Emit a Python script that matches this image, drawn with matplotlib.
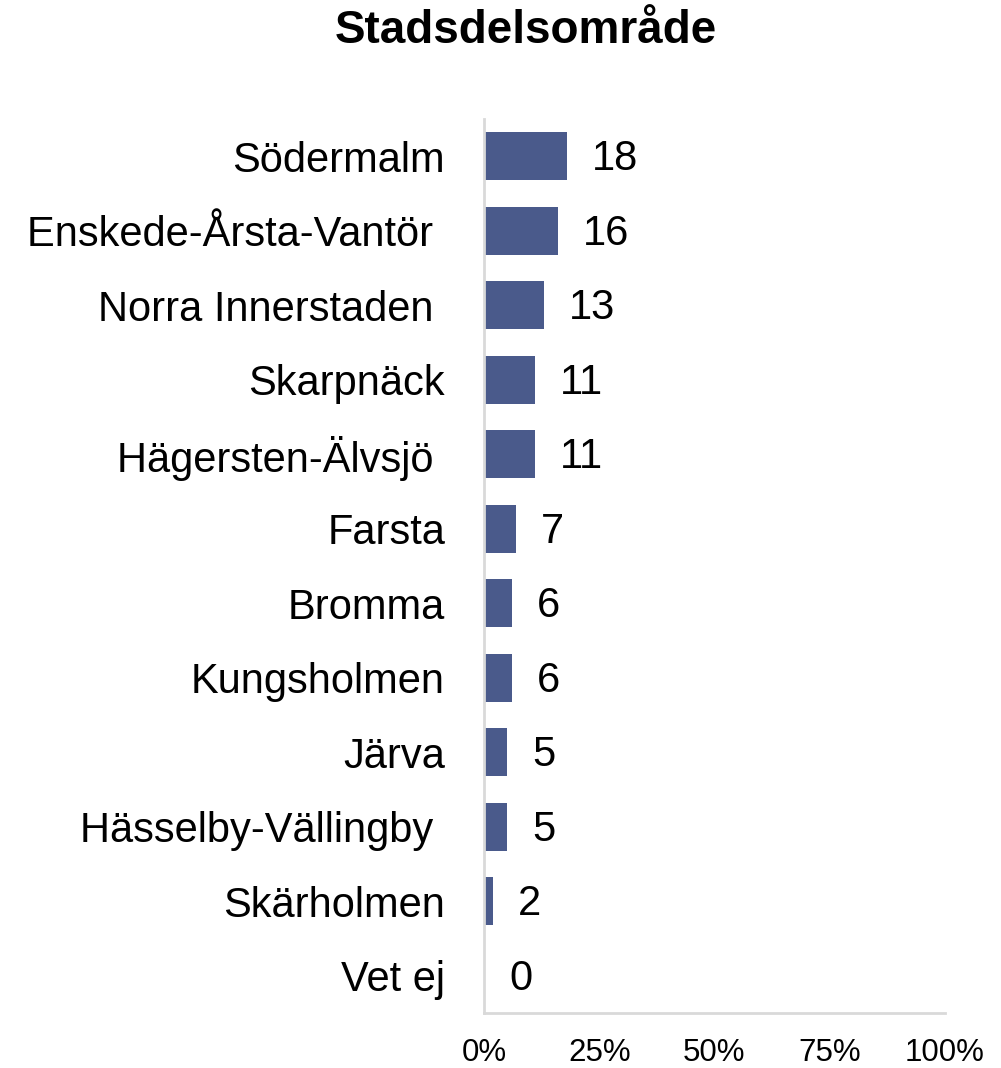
import numpy as np
import matplotlib.pyplot as plt

plt.rcParams['font.family'] = ['Liberation Sans', 'DejaVu Sans']

# data
categories = ["Södermalm", "Enskede-Årsta-Vantör ", "Norra Innerstaden ", "Skarpnäck",
              "Hägersten-Älvsjö ", "Farsta", "Bromma", "Kungsholmen", "Järva",
              "Hässelby-Vällingby ", "Skärholmen", "Vet ej"]
values = [18, 16, 13, 11, 11, 7, 6, 6, 5, 5, 2, 0]
ticks = [0, 25, 50, 75, 100]
tick_labels = ["0%", "25%", "50%", "75%", "100%"]

bar_color = "#4A5A8B"
spine_color = "#D9D9D9"

fig = plt.figure(figsize=(10.01, 10.68), dpi=100)
ax = fig.add_axes([0.4835, 0.0515, 0.4605, 0.8371])

y = np.arange(len(categories))
ax.barh(y, values, height=0.65, color=bar_color)
for yi, v in zip(y, values):
    ax.annotate(str(v), (v, yi), xytext=(18, -2), textcoords="offset points",
                ha="left", va="center", fontsize=30)

ax.set_ylim(len(categories) - 0.5, -0.5)
ax.set_xlim(0, 100)
ax.set_yticks(y)
ax.set_yticklabels(categories, fontsize=30)
ax.set_xticks(ticks)
ax.set_xticklabels(tick_labels, fontsize=22.5)
ax.tick_params(axis="y", length=0, pad=28)
ax.tick_params(axis="x", length=0, pad=18)

for s in ["top", "right"]:
    ax.spines[s].set_visible(False)
for s in ["left", "bottom"]:
    ax.spines[s].set_color(spine_color)
    ax.spines[s].set_linewidth(2)

fig.text(526 / 1001, 1 - 31 / 1068, "Stadsdelsområde", ha="center", va="center",
         fontsize=33, fontweight="bold")

fig.savefig("out.png", dpi=100)
